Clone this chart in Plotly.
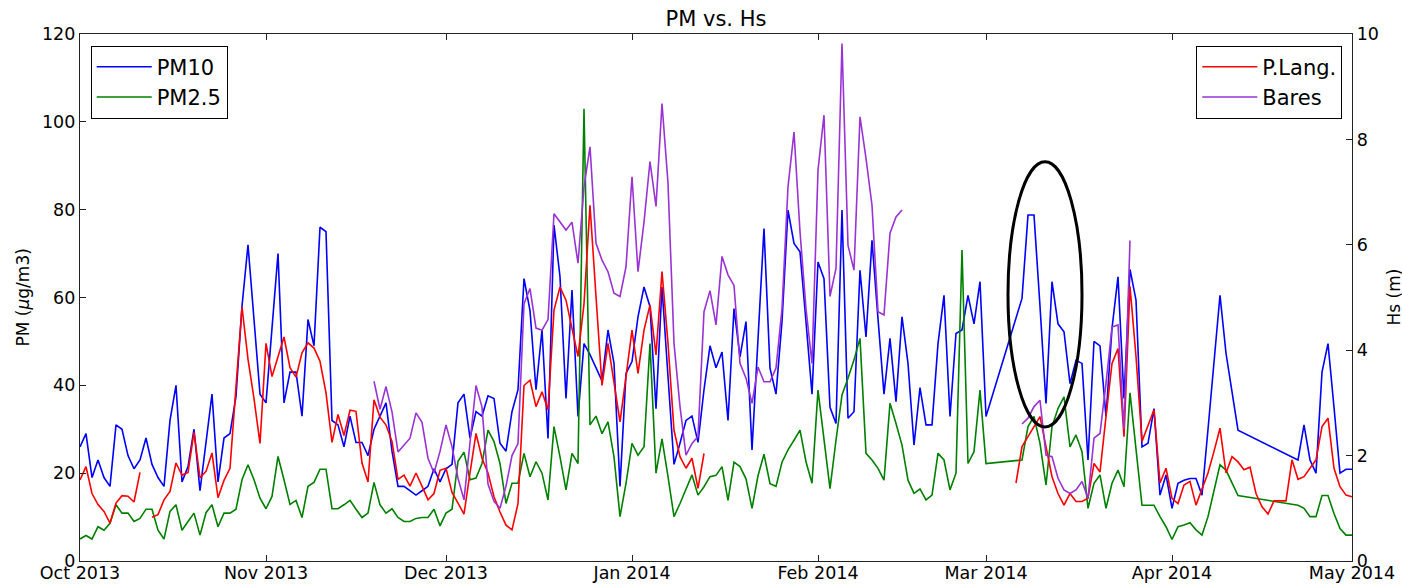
import pandas as pd
import plotly.graph_objects as go

N = None
start_date = "2013-10-01"
n_days = 213

pm10 = [26, 29, 19, 23, 19, 17, 31, 30, 24, 21,
        23, 28, 22, 19, 17, 32, 40, 18, 21.5, 30,
        16, 27, 38, 18, 28, 29, 37.5, 58, 72, 55,
        38, 36, 53, 70, 36, 43, 43, 33, 55, 49,
        76, 75, 32, 31, 26, 33, 27, 27, 24, 30,
        33, 36, 25, 17, 17, 16, 15, 16, 17, 21,
        18, 21, 22, 36, 38, 28, 34, 33, 37.6, 37,
        26.8, 25, 34, 39, 64.3, 57, 39, 52.6, 27.9, 76.5,
        64.7, 37, 61.7, 32.9, 49.5, 47, 44, 41, 52.6, 45,
        17, 42.7, 45.4, 55.6, 62.4, 57.9, 34.7, 62.4, 42, 22,
        26.8, 32, 33, 27, 39, 49, 44, 47.6, 32, 57.5,
        46.5, 54.5, 25.3, 51.4, 75.7, 43.9, 38, 54.5, 79.9, 72.3,
        70.4, 54.5, 38, 68.1, 64.3, 35, 31.3, 79.9, 32.5, 34,
        66.2, 51, 73, 55.2, 38, 50.7, 36.3, 55.6, 45, 26.4,
        39.5, 31, 31, 49.5, 60.5, 32.9, 51.8, 52.6, 60.5, 54,
        63.6, 32.9, N, N, N, N, N, 59.8, 78.8, 78.8,
        58, 35.9, 63.6, 54, 52.2, 40.4, 45.7, 45, 23, 50,
        49, 32.9, 53, 64.7, 37, 66.4, 59.4, 26, 26.8, 34.7,
        15, 19.6, 12, 17.7, 18.4, 18.8, 18.8, 15, 30, 45,
        60.5, 47.3, 39, 29.8, N, N, N, N, N, N,
        N, N, N, 23, 31, 23, 20, 43, 49.5, 35,
        20, 20.9, 20.9]

pm25 = [5, 5.8, 5, 7.8, 7, 8.6, 12.8, 10.9, 10.9, 9,
        9.7, 11.8, 11.8, 7, 5, 11.3, 12.8, 7, 9, 10.9,
        5.9, 11, 12.8, 7.8, 10.9, 10.9, 11.8, 18.5, 21.9, 18.5,
        14.3, 11.9, 14.7, 23.8, 18.5, 12.9, 13.8, 9.9, 17, 17.9,
        20.9, 20.9, 11.9, 11.9, 12.8, 13.8, 11.8, 9.9, 10.9, 17.9,
        12.8, 10.9, 11.9, 9.9, 9, 9, 9.7, 9.9, 9.9, 11.8,
        8, 10.9, 11.8, 22.7, 24.8, 18.5, 18.9, 22.2, 29.8, 27.2,
        22.2, 13.1, 17.7, 17.7, 24.5, 19.2, 22.6, 20, 13.9, 30.6,
        23.7, 16.2, 24.5, 22.2, 103, 31, 33, 29, 31.7, 23.7,
        10.1, 17.7, 26.8, 24.1, 26, 49.5, 20, 27.8, 19.2, 10.1,
        13.1, 16.2, 19.6, 15, 16.9, 19.2, 19.5, 21.5, 13.8, 22.5,
        21.5, 18.7, 12, 19.4, 24.3, 17.6, 17, 22.5, 25.3, 27.5,
        29.8, 22.6, 17.7, 38.9, 27.9, 16.5, 27.5, 37.8, 41.6, 45.8,
        50.7, 24.5, 23, 21.1, 18.4, 35.9, 31.3, 26.4, 18.4, 15.4,
        16.4, 13.9, 15, 24.5, 23, 16.2, 20, 70.8, 22.2, 24.9,
        38.9, 22.2, N, N, N, N, N, 23, 30.6, 32.9,
        26.8, 17.3, 30.6, 34.7, 37.4, 26, 28.7, 24.9, 12, 17.7,
        19.6, 12, 17.7, 20.7, 16.9, 38.3, 26, 12.7, 12.7, 12.7,
        10.1, 7.8, 4.9, 7.8, 8.2, 8.7, 7.1, 5.9, 10.1, 16.2,
        21.9, 20.7, 17.7, 14.9, N, N, N, N, N, N,
        N, N, N, 12.7, 12, 10.1, 10.1, 14.9, 14.9, 10.8,
        7.4, 5.9, 5.9]

hs_plang = [1.54, 1.79, 1.28, 1.07, 0.94, 0.72, 1.10, 1.24, 1.23, 1.12,
            1.68, N, 0.83, 0.88, 1.16, 1.32, 1.86, 1.63, 1.68, 2.44,
            1.58, 1.70, 2.05, 1.20, 1.53, 1.76, 3.31, 4.82, 3.83, 3.08,
            2.23, 4.13, 3.50, 3.88, 4.25, 3.67, 3.49, 3.95, 4.14, 4.04,
            3.79, 3.19, 2.25, 2.78, 2.38, 2.86, 2.84, 1.86, 1.50, 3.06,
            2.73, 2.58, 2.27, 1.55, 1.63, 1.42, 1.67, 1.42, 1.16, 1.28,
            1.72, 1.76, 1.30, 1.10, 0.89, 1.67, 2.42, 1.95, 1.67, 1.22,
            0.93, 0.68, 0.59, 1.09, 3.33, 3.43, 2.93, 3.21, 2.87, 4.76,
            5.20, 4.95, 4.38, 3.88, 4.88, 6.75, 5.02, 3.33, 4.13, 3.37,
            2.64, 3.50, 4.38, 3.56, 4.38, 4.86, 3.91, 5.49, 4.13, 2.48,
            1.98, 1.76, 1.95, 1.38, 2.04] + [N] * 51 + [
            1.48, 2.17, 2.36, 2.55,
            2.74, 2.17, 1.60, 1.28, 1.06, 1.28, 1.13, 1.13, 1.19, 1.85,
            1.69, 2.74, 3.75, 4.03, 2.36, 5.21, 3.88, 2.27, 2.58, 2.87,
            1.48, 1.76, 1.19, 1.09, 1.44, 1.51, 1.06, 1.38, 1.67, 2.08,
            2.52, 1.67, 1.98, 1.88, 1.73, 1.78, 1.28, 1.03, 0.89, 1.14,
            1.14, 1.14, 1.92, 1.55, 1.60, 1.76, 1.92, 2.55, 2.71, 1.76,
            1.41, 1.25, 1.22]

hs_bares = [N] * 49 + [
            3.41, 2.88, 3.31, 2.83, 2.07, 2.20, 2.33, 2.81, 2.63, 1.95, 1.67,
            2.08, 2.58, 2.17, 1.57, 1.16, 2.23, 3.33, 2.92, 1.46, 1.13,
            1.00, 1.42, 2.00, 2.23, 4.88, 5.17, 4.42, 4.38, 4.58, 6.59,
            6.43, 6.28, 6.43, 5.65, 7.10, 7.86, 6.03, 5.71, 5.49, 5.08,
            5.02, 5.58, 7.29, 5.49, 6.43, 7.58, 6.73, 8.68, 7.17, 4.13,
            2.93, 2.01, 2.23, 2.36, 4.73, 5.13, 4.48, 5.78, 5.43, 5.23,
            3.75, 3.47, 2.99, 3.68, 3.40, 3.40, 3.66, 4.79, 7.10, 8.14,
            6.25, 4.79, 3.75, 7.42, 8.46, 5.02, 5.55, 9.82, 5.99, 5.52,
            8.43, 7.64, 6.75, 4.73, 4.67, 6.22, 6.53, 6.66] + [N] * 19 + [
            2.60, 2.71, 2.93, 3.05, 2.01, 1.98, 1.57, 1.35, 1.28, 1.35, 1.51, 1.19, 2.33,
            2.42, 3.37, 4.44, 4.48, 2.50, 6.08] + [N] * 37

month_ticks = ["2013-10-01", "2013-11-01", "2013-12-01", "2014-01-01",
               "2014-02-01", "2014-03-01", "2014-04-01", "2014-05-01"]
month_labels = ["Oct 2013", "Nov 2013", "Dec 2013", "Jan 2014",
                "Feb 2014", "Mar 2014", "Apr 2014", "May 2014"]
pm_ticks = [0, 20, 40, 60, 80, 100, 120]
hs_ticks = [0, 2, 4, 6, 8, 10]

# highlight ellipse (annotation)
ell_x0, ell_x1 = "2014-03-04 16:00", "2014-03-17 00:00"
ell_y0, ell_y1 = 30.5, 90.9

dates = pd.date_range(start_date, periods=n_days, freq="D")

FONT = "DejaVu Sans"
W, H = 1402, 584
ML, MR, MT, MB = 80, 50, 34, 23
PW = W - ML - MR

fig = go.Figure()
lw = 1.6
fig.add_trace(go.Scatter(x=dates, y=pm10, name="PM10", mode="lines",
                         line=dict(color="#0000ff", width=lw), connectgaps=True,
                         legend="legend"))
fig.add_trace(go.Scatter(x=dates, y=pm25, name="PM2.5", mode="lines",
                         line=dict(color="#008000", width=lw), connectgaps=True,
                         legend="legend"))
fig.add_trace(go.Scatter(x=dates, y=hs_plang, name="P.Lang.", mode="lines",
                         line=dict(color="#ff0000", width=lw), connectgaps=False,
                         yaxis="y2", legend="legend2"))
fig.add_trace(go.Scatter(x=dates, y=hs_bares, name="Bares", mode="lines",
                         line=dict(color="#9a33d4", width=lw), connectgaps=False,
                         yaxis="y2", legend="legend2"))

fig.add_shape(type="circle", xref="x", yref="y", x0=ell_x0, x1=ell_x1,
              y0=ell_y0, y1=ell_y1, line=dict(color="black", width=3))

axis_common = dict(showgrid=False, zeroline=False, showline=True, automargin=False,
                   linecolor="#222", linewidth=1.3, ticks="inside", ticklen=6,
                   tickcolor="#222", tickfont=dict(family=FONT, size=17.5, color="black"))

legend_common = dict(y=0.978, yanchor="top", bordercolor="black", borderwidth=1,
                     bgcolor="white", font=dict(family=FONT, size=21, color="black"),
                     itemwidth=55, tracegroupgap=0)

fig.update_layout(
    width=W, height=H,
    margin=dict(l=ML, r=MR, t=MT, b=MB, autoexpand=False),
    paper_bgcolor="white", plot_bgcolor="white",
    title=dict(text="PM vs. Hs", x=(716) / W, xanchor="center", y=1 - 19 / H,
               yanchor="middle", font=dict(family=FONT, size=21, color="black")),
    xaxis=dict(range=[month_ticks[0], month_ticks[-1]], tickvals=month_ticks,
               ticktext=month_labels, mirror="ticks", ticklabelstandoff=-4,
               **axis_common),
    yaxis=dict(range=[0, 120], tickvals=pm_ticks, **axis_common),
    yaxis2=dict(range=[0, 10], tickvals=hs_ticks, overlaying="y", side="right",
                **axis_common),
    legend=dict(x=(90.7 - ML) / PW, xanchor="left", **legend_common),
    legend2=dict(x=(1342.3 - ML) / PW, xanchor="right", **legend_common),
)
fig.add_annotation(text="PM (<i>μ</i>g/m3)", x=(22 - ML) / PW, xref="paper",
                   xanchor="center", y=0.5, yref="paper", yanchor="middle",
                   textangle=-90, showarrow=False,
                   font=dict(family=FONT, size=17, color="black"))
fig.add_annotation(text="Hs (m)", x=(1393 - ML) / PW, xref="paper",
                   xanchor="center", y=0.5, yref="paper", yanchor="middle",
                   textangle=-90, showarrow=False,
                   font=dict(family=FONT, size=17, color="black"))

fig.write_html("out.html")
